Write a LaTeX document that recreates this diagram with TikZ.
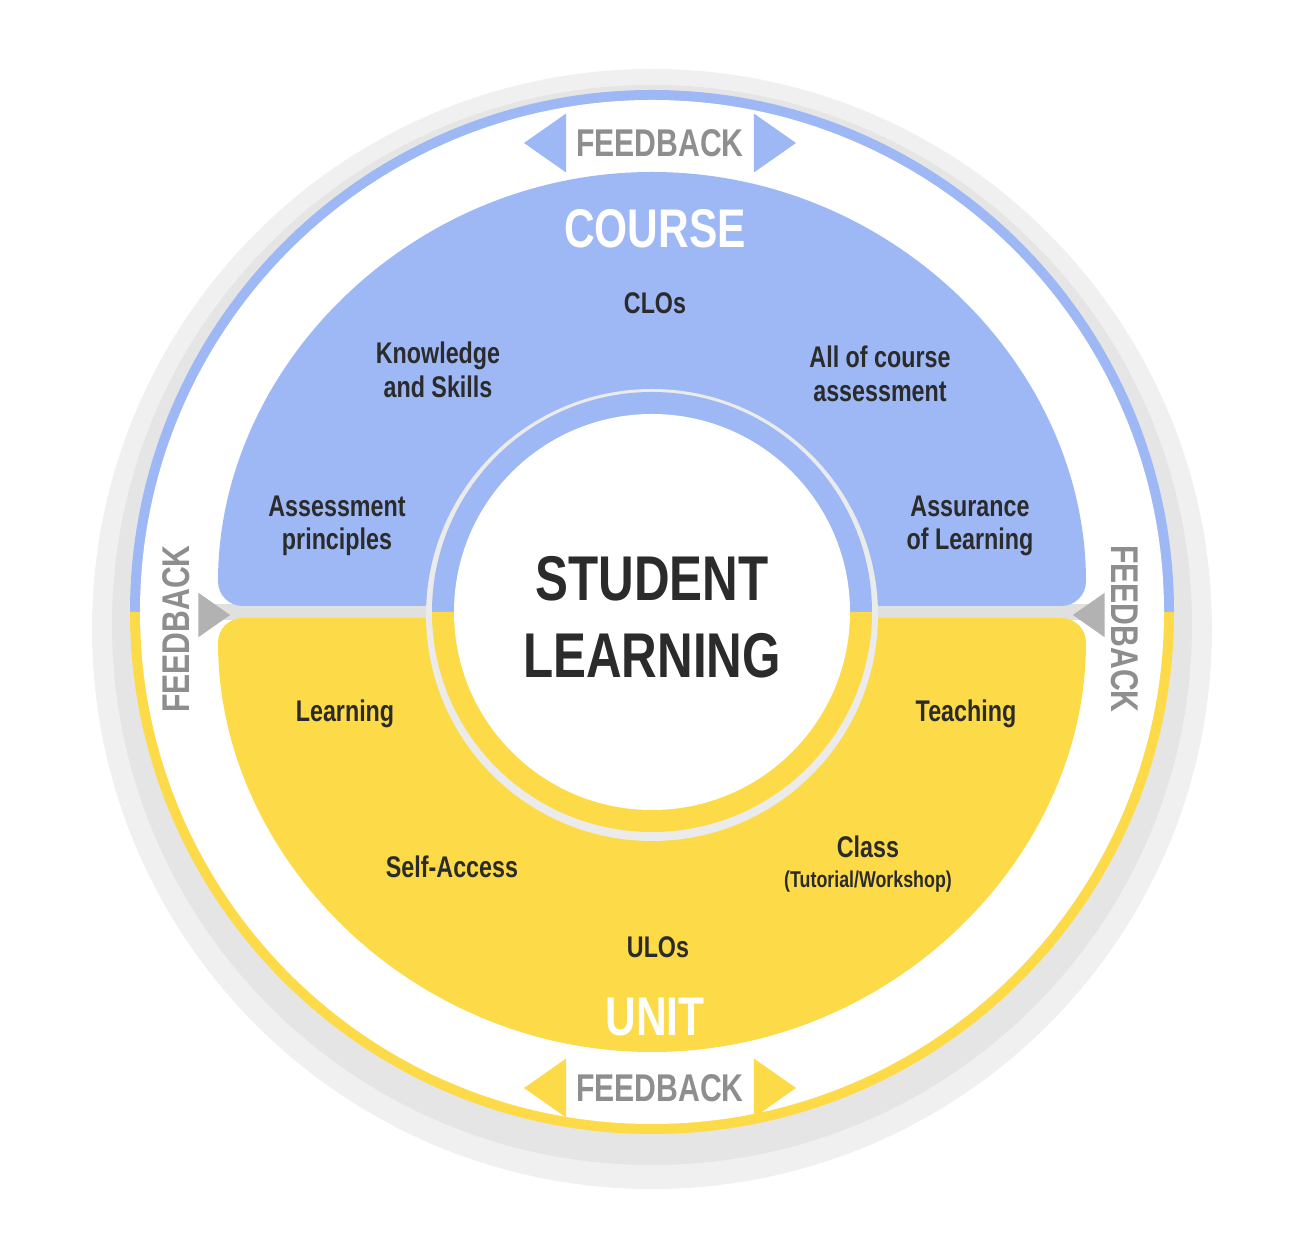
\documentclass[tikz,border=0pt]{standalone}
\usepackage{fontspec}
\newfontfamily\cond[FakeStretch=0.78]{Liberation Sans}
\usepackage{tikz}
\usetikzlibrary{shapes.geometric, positioning}
\definecolor{cblue}{HTML}{9DB8F5}
\definecolor{cyell}{HTML}{FCDA48}
\definecolor{ink}{HTML}{2B2B2B}
\definecolor{fbgray}{HTML}{8E8E8E}

\begin{document}
\begin{tikzpicture}[x=0.02cm, y=0.02cm,
            label/.style={text=ink, font=\cond\bfseries\fontsize{17}{19}\selectfont, align=center},
            head/.style={text=white, font=\cond\bfseries\fontsize{31}{33}\selectfont},
            fb/.style={text=fbgray, font=\cond\bfseries\fontsize{22}{24}\selectfont},
            tri/.style={isosceles triangle, isosceles triangle apex angle=70, inner sep=0pt, minimum size=24pt}]
            \useasboundingbox (0,0) rectangle (1305,1247);

            % shadow and outer ring
            \fill[black!6] (652,618) circle[radius=560];
            \fill[black!10] (652,622) circle[radius=540];
            \fill[cblue] (130,635) arc[start angle=180, end angle=0, radius=522] -- cycle;
            \fill[cyell] (130,635) arc[start angle=180, end angle=360, radius=522] -- cycle;
            \fill[white] (652,635) circle[radius=512];
            \fill[black!12] (214,627) rectangle (1090,643);

            % course and unit halves
            \fill[cblue, rounded corners=14] (218,641) arc[start angle=180, end angle=0, radius=434] -- cycle;
            \fill[cyell, rounded corners=14] (218,629) arc[start angle=180, end angle=360, radius=434] -- cycle;

            % student learning core
            \fill[black!8] (652,632) circle[radius=226];
            \fill[cblue] (432,635) arc[start angle=180, end angle=0, radius=220] -- cycle;
            \fill[cyell] (432,635) arc[start angle=180, end angle=360, radius=220] -- cycle;
            \fill[white] (652,635) circle[radius=198];
            \node[text=ink, font=\cond\bfseries\fontsize{36}{44}\selectfont, align=center] (core) at (652,630) {STUDENT\\LEARNING};

            % course labels
            \node[head] (course) at (655,1018) {COURSE};
            \node[label] (clos) at (655,944) {CLOs};
            \node[label] (know) at (438,877) {Knowledge\\and Skills};
            \node[label] (allc) at (880,873) {All of course\\assessment};
            \node[label] (apr) at (337,721) {Assessment\\principles};
            \node[label] (aol) at (970,721) {Assurance\\of Learning};

            % unit labels
            \node[label] (learn) at (345,533) {Learning};
            \node[label] (teach) at (966,533) {Teaching};
            \node[label] (self) at (452,380) {Self-Access};
            \node[label] (class) at (868,383) {Class\\[-2pt]{\fontsize{13}{14}\selectfont(Tutorial/Workshop)}};
            \node[label] (ulos) at (658,300) {ULOs};
            \node[head] (unit) at (655,230) {UNIT};

            % feedback
            \node[fb] (fbtop) at (660,1104) {FEEDBACK};
            \node[tri, fill=cblue, shape border rotate=180, left=2pt of fbtop] (ttl) {};
            \node[tri, fill=cblue, right=2pt of fbtop] (ttr) {};
            \node[fb] (fbbot) at (660,159) {FEEDBACK};
            \node[tri, fill=cyell, shape border rotate=180, left=2pt of fbbot] (tbl) {};
            \node[tri, fill=cyell, right=2pt of fbbot] (tbr) {};
            \node[fb, rotate=90] (fbleft) at (176,618) {FEEDBACK};
            \node[tri, fill=black!30, minimum size=18pt] (tlf) at (210,632) {};
            \node[fb, rotate=-90] (fbright) at (1125,618) {FEEDBACK};
            \node[tri, fill=black!30, minimum size=18pt, shape border rotate=180] (trg) at (1093,632) {};
        \end{tikzpicture}
\end{document}
